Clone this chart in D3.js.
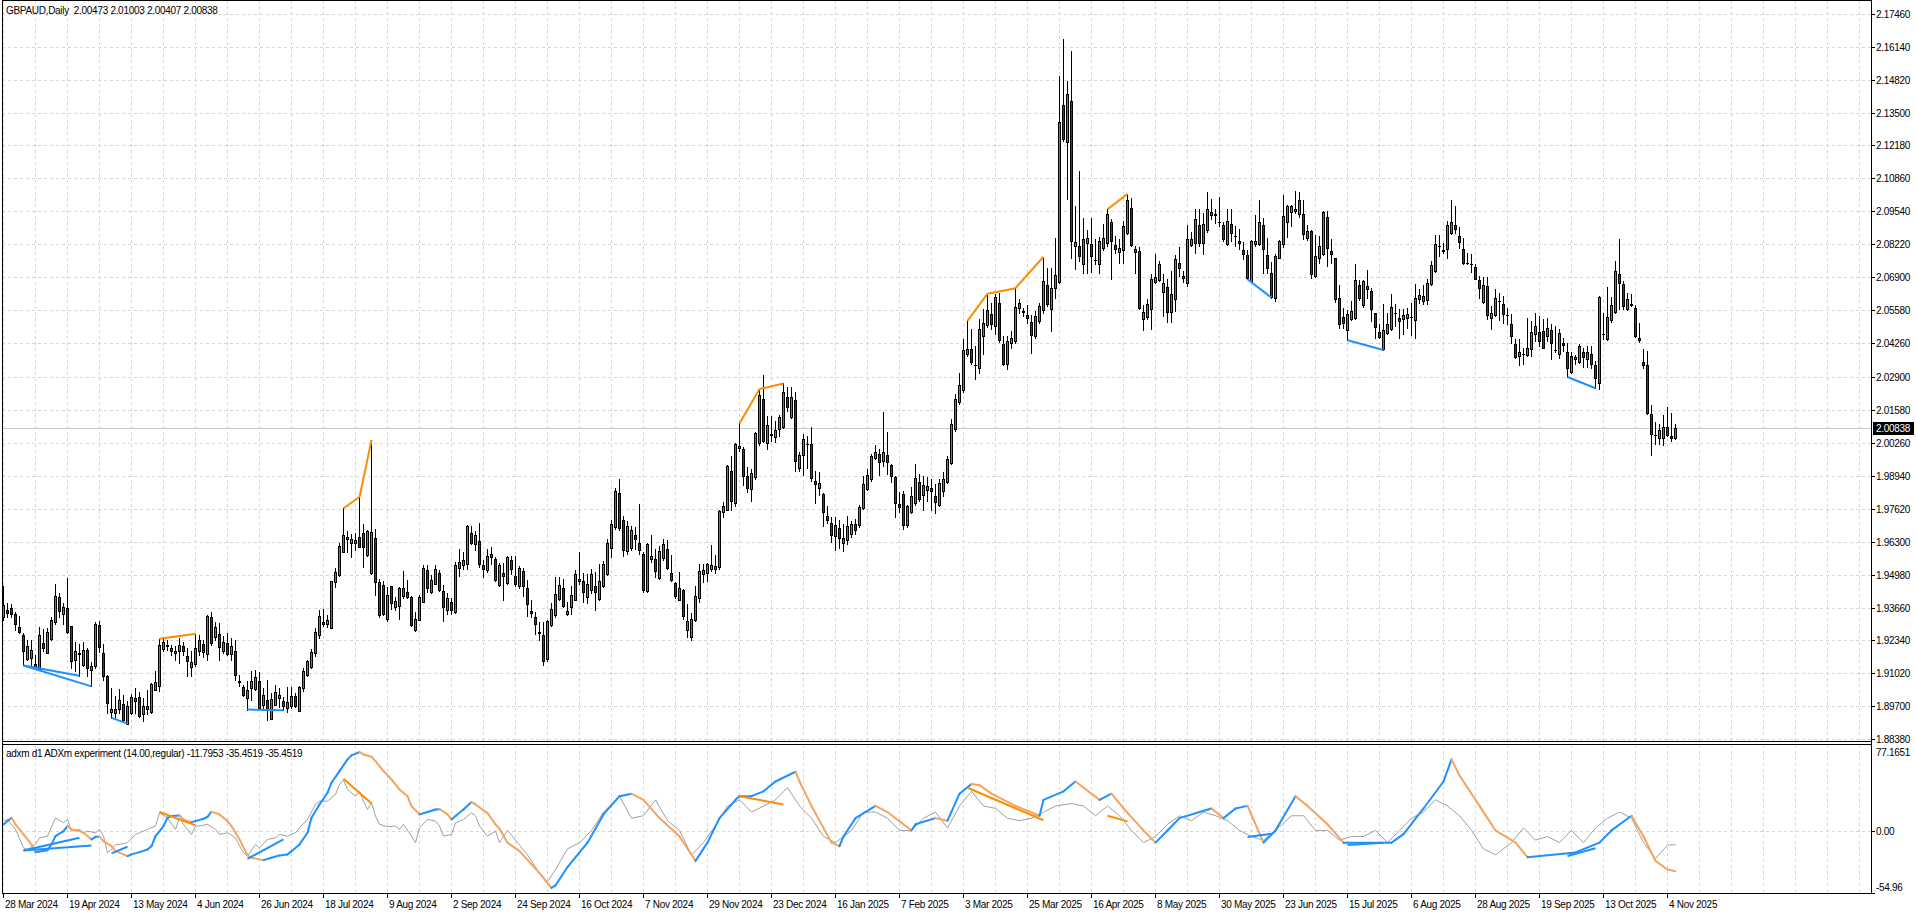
<!DOCTYPE html>
<html><head><meta charset="utf-8">
<script src="https://cdn.jsdelivr.net/npm/d3@7"></script>
<style>
html,body{margin:0;padding:0;background:#fff;overflow:hidden}
svg{display:block}
text{font-family:"Liberation Sans",Arial,sans-serif;font-size:10px;letter-spacing:-0.3px;fill:#000;white-space:pre}
</style></head><body>
<svg id="c" width="1916" height="915"></svg>
<script>
// ---------------- DATA ----------------
const symbolTitle = "GBPAUD,Daily  2.00473 2.01003 2.00407 2.00838";
const indicatorTitle = "adxm d1 ADXm experiment (14.00,regular) -11.7953 -35.4519 -35.4519";
const lastPrice = 2.00838;

const opens = [
1.9330,1.9357,1.9364,1.9340,1.9288,1.9256,1.9160,1.9164,1.9141,1.9117,
1.9224,1.9184,1.9241,1.9308,1.9408,1.9341,1.9364,1.9292,1.9154,1.9183,
1.9136,1.9197,1.9117,1.9130,1.9296,1.9184,1.9093,1.8946,1.8944,1.8960,
1.8980,1.8901,1.8944,1.8990,1.9006,1.8941,1.8960,1.8946,1.9037,1.9050,
1.9200,1.9213,1.9204,1.9184,1.9193,1.9213,1.9170,1.9128,1.9140,1.9190,
1.9218,1.9180,1.9330,1.9248,1.9260,1.9190,1.9224,1.9181,1.9193,1.9070,
1.9048,1.9002,1.9042,1.9040,1.9070,1.8976,1.8997,1.8921,1.8977,1.9004,
1.8993,1.8965,1.8970,1.9013,1.8953,1.9044,1.9097,1.9128,1.9184,1.9257,
1.9310,1.9300,1.9284,1.9468,1.9497,1.9590,1.9640,1.9624,1.9626,1.9650,
1.9664,1.9577,1.9504,1.9645,1.9468,1.9456,1.9321,1.9454,1.9368,1.9373,
1.9414,1.9428,1.9408,1.9277,1.9317,1.9390,
1.9518,1.9428,1.9462,1.9506,1.9431,1.9358,1.9387,1.9348,1.9526,1.9535,
1.9542,1.9666,1.9619,1.9631,1.9538,1.9515,1.9579,1.9562,1.9458,1.9506,
1.9464,1.9558,1.9494,1.9454,1.9512,1.9446,1.9352,1.9328,1.9268,1.9255,
1.9160,1.9295,1.9338,1.9402,1.9446,1.9339,1.9368,1.9398,1.9471,1.9471,
1.9408,1.9435,1.9454,1.9402,1.9452,1.9502,1.9606,1.9688,1.9826,1.9718,
1.9592,1.9606,1.9658,1.9626,1.9582,1.9431,1.9562,1.9562,1.9486,1.9566,
1.9602,1.9506,1.9466,1.9398,1.9438,1.9275,1.9246,1.9318,1.9406,1.9502,
1.9506,1.9520,1.9522,1.9528,1.9748,1.9758,1.9912,1.9786,2.0004,2.0002,
1.9892,1.9842,1.9888,2.0024,2.0202,2.0024,2.0060,2.0048,2.0083,2.0088,
2.0208,2.0128,2.0198,1.9926,1.9979,2.0022,2.0022,1.9874,1.9846,1.9822,
1.9731,1.9706,1.9651,1.9684,1.9626,1.9638,
1.9660,1.9700,1.9695,1.9764,1.9842,1.9882,1.9966,1.9982,1.9955,1.9978,
1.9938,1.9891,1.9782,1.9822,1.9695,1.9748,1.9786,1.9868,1.9819,1.9839,
1.9844,1.9815,1.9778,1.9832,1.9868,1.9946,2.0082,2.0188,2.0238,2.0382,
2.0402,2.0338,2.0326,2.0455,2.0498,2.0542,2.0495,2.0588,2.0422,2.0342,
2.0426,2.0434,2.0566,2.0553,2.0538,2.0511,2.0455,2.0515,2.0558,2.0658,
2.0564,2.0646,2.0671,2.1382,2.1231,2.1395,2.0815,2.0815,2.0742,2.0826,
2.0822,2.0758,2.0742,2.0806,2.0826,2.0911,2.0818,2.0792,2.0799,2.0868,
2.0966,2.0802,2.0794,2.0522,2.0531,2.0562,2.0672,2.0679,2.0632,2.0651,
2.0552,2.0602,2.0746,2.0695,2.0668,2.0819,2.0826,2.0898,2.0826,2.0879,
2.0938,2.0942,2.0913,2.0898,2.0822,2.0902,2.0855,2.0835,2.0799,2.0778,
2.0675,2.0822,2.0822,2.0898,2.0778,2.0706,
2.0607,2.0767,2.0823,2.0911,2.0950,2.0954,2.0943,2.0945,2.0847,2.0874,
2.0694,2.0765,2.0781,2.0930,2.0794,2.0765,2.0605,2.0530,2.0477,2.0521,
2.0525,2.0658,2.0577,2.0654,2.0634,2.0547,2.0470,2.0401,2.0467,2.0481,
2.0548,2.0527,2.0521,2.0527,2.0532,2.0517,2.0601,2.0594,2.0597,2.0661,
2.0714,2.0817,2.0797,2.0801,2.0867,2.0901,2.0857,2.0801,2.0746,2.0743,
2.0730,2.0677,2.0591,2.0653,2.0527,2.0538,2.0594,2.0581,2.0538,2.0503,
2.0421,2.0374,2.0384,2.0378,2.0401,2.0463,2.0471,2.0474,2.0454,2.0477,
2.0400,2.0381,2.0427,2.0391,2.0311,2.0361,2.0350,2.0390,2.0361,2.0381,
2.0338,2.0265,2.0464,2.0441,2.0517,2.0551,2.0701,2.0661,2.0561,2.0581,
2.0565,2.0445,2.0350,2.0337,2.0141,2.0059,2.0045,2.0045,2.0090,2.0054,
2.00473];

const highs = [
1.9454,1.9386,1.9381,1.9350,1.9334,1.9264,1.9237,1.9237,1.9177,1.9290,
1.9281,1.9284,1.9328,1.9461,1.9424,1.9386,1.9485,1.9292,1.9226,1.9221,
1.9229,1.9202,1.9146,1.9308,1.9314,1.9221,1.9097,1.9042,1.9010,1.9040,
1.9016,1.8990,1.9021,1.9044,1.9029,1.9004,1.9034,1.9064,1.9110,1.9241,
1.9242,1.9234,1.9216,1.9210,1.9244,1.9226,1.9204,1.9190,1.9261,1.9257,
1.9237,1.9337,1.9349,1.9310,1.9305,1.9250,1.9264,1.9244,1.9237,1.9094,
1.9057,1.9070,1.9110,1.9114,1.9106,1.9044,1.9077,1.9024,1.9056,1.9045,
1.9008,1.9046,1.9046,1.9024,1.9050,1.9125,1.9157,1.9200,1.9284,1.9357,
1.9360,1.9337,1.9473,1.9526,1.9624,1.9764,1.9673,1.9660,1.9664,1.9809,
1.9700,1.9678,2.0037,1.9682,1.9480,1.9472,1.9450,1.9454,1.9410,1.9450,
1.9514,1.9477,1.9413,1.9348,1.9417,1.9537,
1.9535,1.9495,1.9538,1.9518,1.9455,1.9424,1.9404,1.9547,1.9600,1.9588,
1.9695,1.9692,1.9671,1.9704,1.9555,1.9600,1.9607,1.9568,1.9544,1.9544,
1.9574,1.9574,1.9574,1.9531,1.9526,1.9475,1.9395,1.9348,1.9308,1.9308,
1.9318,1.9384,1.9488,1.9488,1.9482,1.9388,1.9451,1.9518,1.9587,1.9504,
1.9499,1.9520,1.9508,1.9539,1.9552,1.9642,1.9718,1.9844,1.9882,1.9731,
1.9711,1.9694,1.9688,1.9782,1.9588,1.9626,1.9655,1.9602,1.9611,1.9642,
1.9638,1.9575,1.9468,1.9508,1.9440,1.9382,1.9346,1.9451,1.9542,1.9542,
1.9546,1.9615,1.9575,1.9755,1.9791,1.9938,1.9972,2.0024,2.0104,2.0008,
1.9928,1.9922,2.0071,2.0242,2.0299,2.0135,2.0135,2.0115,2.0138,2.0264,
2.0251,2.0248,2.0228,1.9988,2.0062,2.0055,2.0088,1.9915,1.9908,1.9826,
1.9775,1.9728,1.9728,1.9715,1.9702,1.9731,
1.9712,1.9720,1.9779,1.9895,1.9922,1.9982,2.0018,2.0002,2.0151,2.0068,
1.9942,1.9895,1.9831,1.9835,1.9778,1.9851,1.9942,1.9902,1.9895,1.9888,
1.9882,1.9862,1.9882,1.9908,1.9975,2.0122,2.0222,2.0308,2.0442,2.0515,
2.0482,2.0415,2.0524,2.0562,2.0624,2.0588,2.0624,2.0628,2.0455,2.0455,
2.0475,2.0646,2.0604,2.0568,2.0578,2.0538,2.0555,2.0588,2.0772,2.0728,
2.0728,2.0848,2.1495,2.1644,2.1475,2.1595,2.0975,2.1115,2.0928,2.0879,
2.0928,2.0842,2.0852,2.0902,2.0962,2.0922,2.0855,2.0842,2.0915,2.1024,
2.1008,2.0815,2.0812,2.0578,2.0602,2.0702,2.0782,2.0755,2.0702,2.0682,
2.0715,2.0778,2.0812,2.0715,2.0898,2.0871,2.0964,2.0964,2.0946,2.1031,
2.1002,2.0964,2.1012,2.0911,2.0962,2.0962,2.0895,2.0882,2.0831,2.0799,
2.0839,2.0939,2.0999,2.0928,2.0848,2.0751,
2.0781,2.0841,2.1021,2.0981,2.0981,2.1034,2.1031,2.1001,2.0901,2.0881,
2.0858,2.0854,2.0957,2.0954,2.0845,2.0767,2.0658,2.0567,2.0557,2.0594,
2.0741,2.0677,2.0677,2.0717,2.0647,2.0547,2.0503,2.0581,2.0547,2.0621,
2.0583,2.0561,2.0561,2.0567,2.0587,2.0661,2.0641,2.0658,2.0681,2.0754,
2.0858,2.0858,2.0827,2.0914,2.1001,2.0974,2.0890,2.0847,2.0787,2.0781,
2.0741,2.0694,2.0690,2.0690,2.0574,2.0641,2.0627,2.0614,2.0567,2.0541,
2.0441,2.0441,2.0407,2.0527,2.0514,2.0547,2.0534,2.0521,2.0527,2.0503,
2.0494,2.0481,2.0447,2.0427,2.0391,2.0378,2.0421,2.0407,2.0414,2.0414,
2.0354,2.0614,2.0547,2.0651,2.0610,2.0754,2.0845,2.0674,2.0627,2.0623,
2.0578,2.0507,2.0401,2.0394,2.0178,2.0111,2.0103,2.0138,2.0170,2.0147,
2.01003];

const lows = [
1.9317,1.9330,1.9330,1.9277,1.9264,1.9134,1.9157,1.9137,1.9124,1.9114,
1.9190,1.9184,1.9237,1.9301,1.9330,1.9301,1.9264,1.9124,1.9110,1.9093,
1.9130,1.9090,1.9050,1.9124,1.9188,1.9077,1.8944,1.8924,1.8924,1.8944,
1.8910,1.8901,1.8941,1.8944,1.8926,1.8910,1.8941,1.8944,1.9034,1.9030,
1.9190,1.9194,1.9177,1.9157,1.9144,1.9177,1.9093,1.9093,1.9130,1.9177,
1.9168,1.9157,1.9217,1.9234,1.9157,1.9184,1.9177,1.9154,1.9077,1.9050,
1.9010,1.8957,1.8997,1.9037,1.8961,1.8960,1.8914,1.8920,1.8977,1.8968,
1.8954,1.8946,1.8964,1.8968,1.8950,1.9030,1.9090,1.9124,1.9170,1.9244,
1.9294,1.9290,1.9284,1.9448,1.9494,1.9589,1.9590,1.9570,1.9597,1.9608,
1.9530,1.9573,1.9501,1.9417,1.9330,1.9337,1.9314,1.9361,1.9357,1.9321,
1.9404,1.9404,1.9294,1.9274,1.9317,1.9390,
1.9428,1.9424,1.9459,1.9431,1.9312,1.9342,1.9342,1.9344,1.9491,1.9522,
1.9522,1.9622,1.9598,1.9528,1.9488,1.9508,1.9542,1.9472,1.9452,1.9398,
1.9462,1.9502,1.9451,1.9446,1.9411,1.9332,1.9328,1.9259,1.9235,1.9135,
1.9150,1.9291,1.9328,1.9395,1.9368,1.9335,1.9342,1.9395,1.9462,1.9388,
1.9386,1.9424,1.9358,1.9395,1.9448,1.9495,1.9568,1.9682,1.9678,1.9571,
1.9582,1.9595,1.9602,1.9582,1.9428,1.9428,1.9548,1.9488,1.9482,1.9558,
1.9520,1.9472,1.9406,1.9395,1.9322,1.9246,1.9235,1.9312,1.9388,1.9468,
1.9472,1.9512,1.9504,1.9522,1.9728,1.9755,1.9755,1.9775,1.9995,1.9858,
1.9828,1.9795,1.9882,2.0019,2.0028,2.0002,2.0035,2.0028,2.0055,2.0086,
2.0155,2.0126,1.9912,1.9912,1.9899,1.9926,1.9875,1.9784,1.9819,1.9691,
1.9704,1.9628,1.9598,1.9606,1.9592,1.9622,
1.9650,1.9660,1.9690,1.9762,1.9838,1.9875,1.9962,1.9898,1.9935,1.9902,
1.9868,1.9728,1.9748,1.9682,1.9688,1.9744,1.9779,1.9795,1.9755,1.9795,
1.9755,1.9746,1.9772,1.9812,1.9866,1.9942,2.0075,2.0182,2.0228,2.0375,
2.0342,2.0282,2.0308,2.0382,2.0492,2.0484,2.0462,2.0431,2.0338,2.0322,
2.0408,2.0428,2.0548,2.0535,2.0508,2.0388,2.0448,2.0508,2.0548,2.0575,
2.0475,2.0608,2.0668,2.1235,2.1002,2.0768,2.0722,2.0755,2.0708,2.0708,
2.0711,2.0742,2.0708,2.0799,2.0815,2.0682,2.0788,2.0748,2.0746,2.0862,
2.0815,2.0708,2.0564,2.0479,2.0524,2.0482,2.0668,2.0675,2.0535,2.0511,
2.0511,2.0555,2.0695,2.0671,2.0655,2.0815,2.0788,2.0815,2.0782,2.0871,
2.0924,2.0908,2.0895,2.0835,2.0818,2.0835,2.0815,2.0804,2.0764,2.0682,
2.0671,2.0815,2.0818,2.0708,2.0706,2.0608,
2.0594,2.0765,2.0810,2.0850,2.0894,2.0947,2.0930,2.0845,2.0841,2.0685,
2.0690,2.0747,2.0778,2.0734,2.0747,2.0591,2.0487,2.0485,2.0437,2.0517,
2.0521,2.0598,2.0571,2.0607,2.0514,2.0447,2.0447,2.0398,2.0463,2.0477,
2.0494,2.0447,2.0461,2.0487,2.0458,2.0447,2.0587,2.0581,2.0583,2.0657,
2.0711,2.0774,2.0787,2.0765,2.0863,2.0867,2.0807,2.0741,2.0743,2.0711,
2.0681,2.0605,2.0587,2.0521,2.0481,2.0534,2.0517,2.0507,2.0503,2.0427,
2.0365,2.0338,2.0343,2.0374,2.0374,2.0434,2.0414,2.0405,2.0434,2.0361,
2.0391,2.0367,2.0394,2.0290,2.0307,2.0343,2.0347,2.0330,2.0330,2.0327,
2.0245,2.0241,2.0441,2.0438,2.0511,2.0547,2.0561,2.0561,2.0557,2.0574,
2.0450,2.0431,2.0327,2.0141,1.9978,2.0023,2.0021,2.0018,2.0054,2.0034,
2.00407];

const closes = [
1.9377,1.9344,1.9340,1.9300,1.9270,1.9190,1.9210,1.9197,1.9125,1.9256,
1.9202,1.9269,1.9317,1.9413,1.9354,1.9369,1.9270,1.9150,1.9192,1.9180,
1.9197,1.9124,1.9132,1.9300,1.9206,1.9090,1.8984,1.8960,1.8960,1.8997,
1.8917,1.8970,1.9008,1.9004,1.8930,1.8973,1.8973,1.9061,1.9066,1.9216,
1.9226,1.9214,1.9190,1.9193,1.9216,1.9193,1.9150,1.9149,1.9202,1.9237,
1.9188,1.9333,1.9224,1.9288,1.9206,1.9228,1.9181,1.9210,1.9097,1.9069,
1.9016,1.9037,1.9070,1.9088,1.8962,1.9016,1.8957,1.9000,1.9029,1.9016,
1.8970,1.8989,1.9013,1.8970,1.9046,1.9110,1.9150,1.9188,1.9268,1.9333,
1.9300,1.9317,1.9472,1.9510,1.9613,1.9656,1.9649,1.9641,1.9637,1.9610,
1.9610,1.9673,1.9668,1.9470,1.9337,1.9340,1.9418,1.9384,1.9393,1.9446,
1.9444,1.9408,1.9296,1.9320,1.9410,1.9524,
1.9446,1.9475,1.9522,1.9435,1.9368,1.9406,1.9358,1.9538,1.9548,1.9555,
1.9691,1.9626,1.9658,1.9539,1.9520,1.9574,1.9568,1.9478,1.9535,1.9494,
1.9568,1.9520,1.9459,1.9526,1.9451,1.9379,1.9346,1.9302,1.9265,1.9150,
1.9311,1.9362,1.9422,1.9458,1.9371,1.9352,1.9415,1.9502,1.9482,1.9428,
1.9459,1.9499,1.9428,1.9472,1.9542,1.9626,1.9702,1.9832,1.9684,1.9595,
1.9694,1.9675,1.9639,1.9595,1.9435,1.9622,1.9574,1.9511,1.9591,1.9622,
1.9524,1.9478,1.9411,1.9446,1.9334,1.9311,1.9322,1.9412,1.9512,1.9518,
1.9539,1.9538,1.9532,1.9751,1.9772,1.9935,1.9795,2.0022,2.0015,1.9895,
1.9844,1.9904,2.0064,2.0218,2.0035,2.0098,2.0059,2.0078,2.0131,2.0231,
2.0168,2.0211,1.9952,1.9978,2.0042,2.0021,1.9886,1.9862,1.9866,1.9748,
1.9718,1.9655,1.9698,1.9646,1.9646,1.9691,
1.9700,1.9675,1.9768,1.9862,1.9898,1.9975,1.9991,1.9948,1.9991,1.9948,
1.9892,1.9786,1.9768,1.9695,1.9771,1.9815,1.9886,1.9802,1.9858,1.9852,
1.9832,1.9788,1.9866,1.9882,1.9962,2.0102,2.0202,2.0259,2.0399,2.0402,
2.0351,2.0337,2.0482,2.0506,2.0558,2.0504,2.0611,2.0438,2.0342,2.0435,
2.0448,2.0571,2.0588,2.0552,2.0528,2.0458,2.0535,2.0575,2.0675,2.0582,
2.0648,2.0699,2.1311,2.1242,2.1426,2.0835,2.0831,2.0775,2.0842,2.0848,
2.0775,2.0757,2.0835,2.0847,2.0942,2.0835,2.0804,2.0806,2.0895,2.0999,
2.0818,2.0792,2.0568,2.0551,2.0582,2.0682,2.0692,2.0742,2.0668,2.0552,
2.0622,2.0762,2.0728,2.0686,2.0842,2.0842,2.0924,2.0826,2.0902,2.0962,
2.0952,2.0938,2.0912,2.0842,2.0915,2.0868,2.0854,2.0826,2.0783,2.0688,
2.0835,2.0834,2.0911,2.0804,2.0728,2.0612,
2.0774,2.0834,2.0934,2.0974,2.0974,2.0965,2.1001,2.0863,2.0877,2.0703,
2.0774,2.0814,2.0950,2.0807,2.0783,2.0601,2.0503,2.0507,2.0541,2.0554,
2.0677,2.0605,2.0674,2.0641,2.0561,2.0491,2.0450,2.0477,2.0501,2.0570,
2.0547,2.0514,2.0538,2.0543,2.0531,2.0605,2.0618,2.0614,2.0667,2.0737,
2.0823,2.0816,2.0796,2.0901,2.0910,2.0885,2.0830,2.0745,2.0745,2.0742,
2.0683,2.0645,2.0658,2.0538,2.0547,2.0607,2.0593,2.0541,2.0537,2.0454,
2.0370,2.0391,2.0383,2.0407,2.0471,2.0494,2.0434,2.0407,2.0487,2.0427,
2.0399,2.0467,2.0417,2.0325,2.0374,2.0370,2.0414,2.0370,2.0391,2.0343,
2.0287,2.0610,2.0463,2.0530,2.0578,2.0714,2.0667,2.0574,2.0601,2.0580,
2.0454,2.0437,2.0337,2.0147,2.0063,2.0058,2.0077,2.0091,2.0058,2.0047,
2.00838];

const priceTickLabels = ["1.88380","1.89700","1.91020","1.92340","1.93660","1.94980","1.96300","1.97620",
"1.98940","2.00260","2.01580","2.02900","2.04260","2.05580","2.06900","2.08220","2.09540","2.10860",
"2.12180","2.13500","2.14820","2.16140","2.17460"];

const dateLabels = ["28 Mar 2024","19 Apr 2024","13 May 2024","4 Jun 2024","26 Jun 2024","18 Jul 2024",
"9 Aug 2024","2 Sep 2024","24 Sep 2024","16 Oct 2024","7 Nov 2024","29 Nov 2024","23 Dec 2024",
"16 Jan 2025","7 Feb 2025","3 Mar 2025","25 Mar 2025","16 Apr 2025","8 May 2025","30 May 2025",
"23 Jun 2025","15 Jul 2025","6 Aug 2025","28 Aug 2025","19 Sep 2025","13 Oct 2025","4 Nov 2025"];
const dateLabelBars = [0,16,32,48,64,80,96,112,128,144,160,176,192,208,224,240,256,272,288,304,320,336,352,368,384,400,416];

const indTickLabels = ["77.1651","0.00","-54.96"];
const indTickValues = [77.1651,0,-54.96];

// ADXm main line (bar index, value)
const adxBars = [0,2,3,5,7,8,9,11,12,13,15,16,17,19,20,22,23,24,25,27,28,30,31,32,34,36,37,38,40,41,42,44,45,47,48,50,51,52,54,56,57,59,61,62,65,67,69,71,72,74,76,77,79,81,82,84,86,87,89,90,92,93,95,97,99,101,102,104,106,108,109,111,112,113,115,117,118,121,123,124,
126,129,134,137,138,141,146,150,154,157,160,164,169,173,176,179,183,184,187,190,193,198,199,202,207,209,210,213,218,221,227,228,233,236,239,242,244,247,253,259,260,265,268,274,277,280,285,288,291,294,299,302,305,308,311,315,318,323,326,331,335,347,350,355,360,362,364,369,373,378,381,393,399,402,407,410,413,416,418];
const adxVals = [6.3,12.2,6.3,-2.7,-11.6,-18.5,-17.9,-16.7,-11.6,-4.2,0.3,4.8,1.8,0.3,-1.2,-7.1,-4.8,-4.8,-8.6,-13.1,-17.6,-20.5,-22.0,-20.5,-18.5,-16.1,-13.1,-4.2,4.8,12.2,13.7,14.3,10.7,8.3,9.2,11.3,13.1,17.6,15.2,9.2,4.8,-7.1,-21.4,-23.5,-25.6,-23.5,-21.4,-20.5,-17.6,-11.6,-1.2,12.2,24.1,34.5,43.5,53.9,64.3,67.9,70.8,68.75,66.7,62.8,53.9,46.4,37.5,31.5,22.6,15.2,17.3,19.6,19.9,15.2,10.7,13.7,19.6,26.2,24.1,16.4,6.3,2.4,
-10,-17.6,-37.2,-50.4,-48.2,-31.8,-10,15.2,31.5,33.7,28.2,11.9,-4.5,-26.3,-10,11.9,28.2,31.5,31.5,35.8,44.6,53.3,44.6,22.8,-10,-13.2,-4.5,11.9,22.8,17.3,0.9,6.4,11.9,9.6,33.7,42.4,41.3,33.7,22.8,14,28.2,35.8,44.6,28.2,33.7,20.5,0.9,-10,0.9,11.9,17.3,20.5,11.9,20.5,22.8,-10,0.9,31.5,22.8,6.4,-10,-10,-2.4,20.5,44.6,64.3,50,22.8,0.9,-10,-23,-18.7,-10,0.9,14,-4.5,-26.3,-34,-35.45];

// signal (thin gray) line
const sigBars = [0,1,3,5,6,8,9,11,13,15,16,17,19,20,21,23,24,25,26,27,28,29,31,33,34,36,38,39,41,43,44,45,47,48,49,51,53,54,56,58,59,60,61,63,64,66,68,69,71,73,74,76,78,79,81,83,84,85,86,88,89,90,91,92,93,94,96,98,99,100,102,103,104,106,108,109,110,112,113,115,117,118,119,121,123,124,
126,131,134,136,138,141,144,147,150,154,157,160,163,166,169,172,175,178,181,184,187,190,193,196,199,202,205,208,212,215,218,221,224,227,230,233,236,239,242,245,248,251,254,257,260,263,267,270,273,276,279,282,285,288,291,294,297,300,303,306,309,312,315,318,322,325,328,331,334,337,340,343,346,349,352,355,358,361,364,367,370,373,377,380,383,386,389,392,395,398,401,404,407,410,413,416,418];
const sigVals = [9.2,10.7,1.8,-14.6,-16.1,-11.6,-5.7,-4.2,12.2,7.7,10.7,0.3,1.8,-1.2,0.3,-1.2,1.8,-4.2,-19,-16.1,-11.6,-11.6,-10.1,-2.7,-1.2,1.8,4.8,16.7,12.2,1.8,12.2,6.3,-2.7,4.8,4.8,6.3,1.8,-2.7,-1.2,-5.7,-13.1,-19,-22,-11.6,-14.6,-7.1,-5.7,-2.7,-4.2,-1.2,3.3,10.7,24.1,27.1,27.1,33,41.9,45.8,37.5,31.5,36,27.1,19.6,25.6,13.7,6.3,4.2,4.8,1.8,6.3,-4.2,-10.1,3.3,10.7,9.2,4.8,-4.2,-2.7,7.7,10.7,16.7,13.7,4.8,-4.2,0.3,-10.1,
0.9,-20.9,-37.3,-45,-34,-15.5,-10,0.9,17.3,31.5,11.8,14,28.2,9.6,0.9,-20.9,-10,5.3,22.7,28.2,17.3,22.7,28.2,39.1,22.7,11.8,-4.5,-10,0.9,17.3,17.3,11.8,0.9,0.9,11.8,17.3,3.1,22.7,35.8,22.7,20.6,11.8,9.6,11.8,17.3,22.7,24.9,22.7,14,22.7,14,0.9,-10,-4.5,6.4,14,9.6,17.3,14,9.6,0.9,-4.5,-7.8,0.9,14,14,0.9,0.9,-7.8,-4.5,-4.5,0.9,-10,0.9,11.8,17.3,28.2,22.7,14,0.9,-15.5,-20.9,-10,3.1,-7.8,-4.5,-10,0.9,-10,3.1,11.8,17.3,11.8,-10,-24.2,-12.2,-11.8];

// divergence lines on price: [startBar, endBar, kind]
const priceDivergences = [[5,19,"bull"],[5,22,"bull"],[27,31,"bull"],[39,48,"bear"],[61,70,"bull"],
[85,89,"bear"],[89,92,"bear"],[184,189,"bear"],[189,195,"bear"],[241,246,"bear"],[246,253,"bear"],
[253,260,"bear"],[276,281,"bear"],[311,317,"bull"],[336,345,"bull"],[391,398,"bull"]];
// divergence lines on indicator: [startBar, startValue, endBar, endValue, kind]
const indDivergences = [[5,-17.0,19,-5.7,"bull"],[5,-17.0,22,-12.5,"bull"],[27,-19.6,31,-13.7,"bull"],
[39,17.3,48,5.4,"bear"],[61,-24.4,70,-7.1,"bull"],[85,47.0,92,25.0,"bear"],[184,31.5,195,24,"bear"],
[241,39,260,10,"bear"],[276,14,281,9,"bear"],[311,-5,317,-2,"bull"],[336,-12,345,-10,"bull"],[391,-22,398,-15,"bull"]];

// ---------------- DRAW ----------------
const svg = d3.select("#c");
const plotL = 2, plotR = 1871;
const mainTop = 0, mainBot = 741, indTop = 745, indBot = 893;
const COL = {up:"#00c800", dn:"#d20000", grid:"#d6d6d6", blue:"#1e90ff", orange:"#f4a460",
             divOrange:"#ff8c00", gray:"#a0a0a0"};

const x = d3.scaleLinear().domain([0, 100]).range([3, 403]);
const y = d3.scaleLinear().domain([1.8838, 2.1746]).range([739.3, 13.7]);
const yi = d3.scaleLinear().domain([-54.96, 77.1651]).range([indBot, indTop]);

svg.append("rect").attr("width",1916).attr("height",915).attr("fill","#fff");

const defs = svg.append("defs");
defs.append("clipPath").attr("id","clipMain").append("rect")
  .attr("x",plotL+1).attr("y",mainTop+1).attr("width",plotR-plotL-1).attr("height",mainBot-mainTop-1);
defs.append("clipPath").attr("id","clipInd").append("rect")
  .attr("x",plotL+1).attr("y",indTop+1).attr("width",plotR-plotL-1).attr("height",indBot-indTop-1);

const gMain = svg.append("g").attr("clip-path","url(#clipMain)");
const gInd = svg.append("g").attr("clip-path","url(#clipInd)");

// vertical grid
const vBars = d3.range(0, 470, 8);
[ [gMain, mainTop, mainBot], [gInd, indTop, indBot] ].forEach(([g,t,b]) => {
  g.selectAll(null).data(vBars).enter().append("line")
    .attr("x1", d => Math.round(x(d))+0.5).attr("x2", d => Math.round(x(d))+0.5)
    .attr("y1", t).attr("y2", b)
    .attr("stroke", COL.grid).attr("stroke-dasharray","3,3").attr("shape-rendering","crispEdges");
});
// horizontal grid main
gMain.selectAll(null).data(priceTickLabels).enter().append("line")
  .attr("x1", plotL).attr("x2", plotR)
  .attr("y1", d => Math.round(y(+d))+0.5).attr("y2", d => Math.round(y(+d))+0.5)
  .attr("stroke", COL.grid).attr("stroke-dasharray","3,3").attr("shape-rendering","crispEdges");
// zero line indicator
gInd.append("line").attr("x1",plotL).attr("x2",plotR)
  .attr("y1", Math.round(yi(0))+0.5).attr("y2", Math.round(yi(0))+0.5)
  .attr("stroke", COL.grid).attr("stroke-dasharray","3,3").attr("shape-rendering","crispEdges");

// current price line
gMain.append("line").attr("x1",plotL).attr("x2",plotR)
  .attr("y1", Math.round(y(lastPrice))+0.5).attr("y2", Math.round(y(lastPrice))+0.5)
  .attr("stroke","#c8c8c8").attr("shape-rendering","crispEdges");

// candles
const bars = d3.range(opens.length);
const gc = gMain.append("g").attr("shape-rendering","crispEdges");
bars.forEach(i => {
  const cx = Math.round(x(i));
  const o = opens[i], h = highs[i], l = lows[i], c = closes[i];
  const yh = Math.round(y(h)), yl = Math.round(y(l));
  gc.append("rect").attr("x",cx).attr("y",yh).attr("width",1).attr("height",Math.max(1,yl-yh+1)).attr("fill","#000");
  const top = Math.round(y(Math.max(o,c))), bot = Math.round(y(Math.min(o,c)));
  gc.append("rect").attr("x",cx-1).attr("y",top).attr("width",3).attr("height",Math.max(1,bot-top+1)).attr("fill","#000");
  if (bot - top >= 2) {
    gc.append("rect").attr("x",cx).attr("y",top+1).attr("width",1).attr("height",bot-top-1)
      .attr("fill", c >= o ? COL.up : COL.dn);
  }
});

// price divergences
gMain.selectAll(null).data(priceDivergences).enter().append("line")
  .attr("x1", d => Math.round(x(d[0]))+0.5)
  .attr("y1", d => d[2]==="bull" ? y(lows[d[0]]) : y(highs[d[0]]))
  .attr("x2", d => Math.round(x(d[1]))+0.5)
  .attr("y2", d => d[2]==="bull" ? y(lows[d[1]]) : y(highs[d[1]]))
  .attr("stroke", d => d[2]==="bull" ? COL.blue : COL.divOrange)
  .attr("stroke-width", 2);

// indicator gray line
const sigPts = sigBars.map((b,k) => [Math.round(x(b))+0.5, yi(sigVals[k])]);
gInd.append("path").attr("d", d3.line()(sigPts)).attr("fill","none")
  .attr("stroke", COL.gray).attr("stroke-width",1);

// indicator main line, coloured by direction
const adxPts = adxBars.map((b,k) => [Math.round(x(b))+0.5, yi(adxVals[k]), adxVals[k]]);
for (let k = 1; k < adxPts.length; k++) {
  const a = adxPts[k-1], b = adxPts[k];
  gInd.append("line").attr("x1",a[0]).attr("y1",a[1]).attr("x2",b[0]).attr("y2",b[1])
    .attr("stroke", b[2] >= a[2] ? COL.blue : COL.orange).attr("stroke-width",2)
    .attr("stroke-linecap","round");
}
// indicator divergences
gInd.selectAll(null).data(indDivergences).enter().append("line")
  .attr("x1", d => Math.round(x(d[0]))+0.5).attr("y1", d => yi(d[1]))
  .attr("x2", d => Math.round(x(d[2]))+0.5).attr("y2", d => yi(d[3]))
  .attr("stroke", d => d[4]==="bull" ? COL.blue : COL.divOrange).attr("stroke-width",2);

// frames
const fr = svg.append("g").attr("stroke","#000").attr("shape-rendering","crispEdges").attr("fill","none");
fr.append("line").attr("x1",plotL+0.5).attr("x2",plotL+0.5).attr("y1",0).attr("y2",indBot+1);
fr.append("line").attr("x1",plotR+0.5).attr("x2",plotR+0.5).attr("y1",0).attr("y2",indBot+1);
fr.append("line").attr("x1",plotL).attr("x2",plotR+1).attr("y1",0.5).attr("y2",0.5);
fr.append("line").attr("x1",plotL).attr("x2",plotR+1).attr("y1",mainBot+0.5).attr("y2",mainBot+0.5);
fr.append("line").attr("x1",plotL).attr("x2",plotR+1).attr("y1",indTop-0.5).attr("y2",indTop-0.5);
fr.append("line").attr("x1",plotL).attr("x2",plotR+1).attr("y1",indBot+0.5).attr("y2",indBot+0.5);

// price axis
const pa = svg.append("g");
pa.selectAll(null).data(priceTickLabels).enter().append("line")
  .attr("x1",plotR+1).attr("x2",plotR+4)
  .attr("y1", d => Math.round(y(+d))+0.5).attr("y2", d => Math.round(y(+d))+0.5)
  .attr("stroke","#000").attr("shape-rendering","crispEdges");
pa.selectAll(null).data(priceTickLabels).enter().append("text")
  .attr("x", plotR+5).attr("y", d => Math.round(y(+d))+4).text(d => d);
// last price tag
const ly = Math.round(y(lastPrice));
pa.append("rect").attr("x",plotR+2).attr("y",ly-6).attr("width",1916-plotR-4).attr("height",13).attr("fill","#000");
pa.append("text").attr("x",plotR+5).attr("y",ly+4).style("fill","#fff").text(lastPrice.toFixed(5));

// indicator axis
const ia = svg.append("g");
const indLabelY = [indTop+11, Math.round(yi(0))+4, indBot-2];
ia.selectAll(null).data(indTickLabels).enter().append("text")
  .attr("x", plotR+5).attr("y", (d,k) => indLabelY[k]).text(d => d);
ia.selectAll(null).data(indTickValues.slice(1)).enter().append("line")
  .attr("x1",plotR+1).attr("x2",plotR+4)
  .attr("y1", d => Math.round(yi(d))+0.5).attr("y2", d => Math.round(yi(d))+0.5)
  .attr("stroke","#000").attr("shape-rendering","crispEdges");

// time axis
const ta = svg.append("g");
ta.selectAll(null).data(dateLabelBars).enter().append("line")
  .attr("x1", d => Math.round(x(d))+0.5).attr("x2", d => Math.round(x(d))+0.5)
  .attr("y1", indBot+1).attr("y2", indBot+5).attr("stroke","#000").attr("shape-rendering","crispEdges");
ta.selectAll(null).data(dateLabels).enter().append("text")
  .attr("x", (d,k) => Math.round(x(dateLabelBars[k]))+2).attr("y", 908).text(d => d);

// titles
svg.append("text").attr("x",6).attr("y",14).attr("xml:space","preserve").text(symbolTitle);
svg.append("text").attr("x",6).attr("y",757).text(indicatorTitle);
</script>
</body></html>
